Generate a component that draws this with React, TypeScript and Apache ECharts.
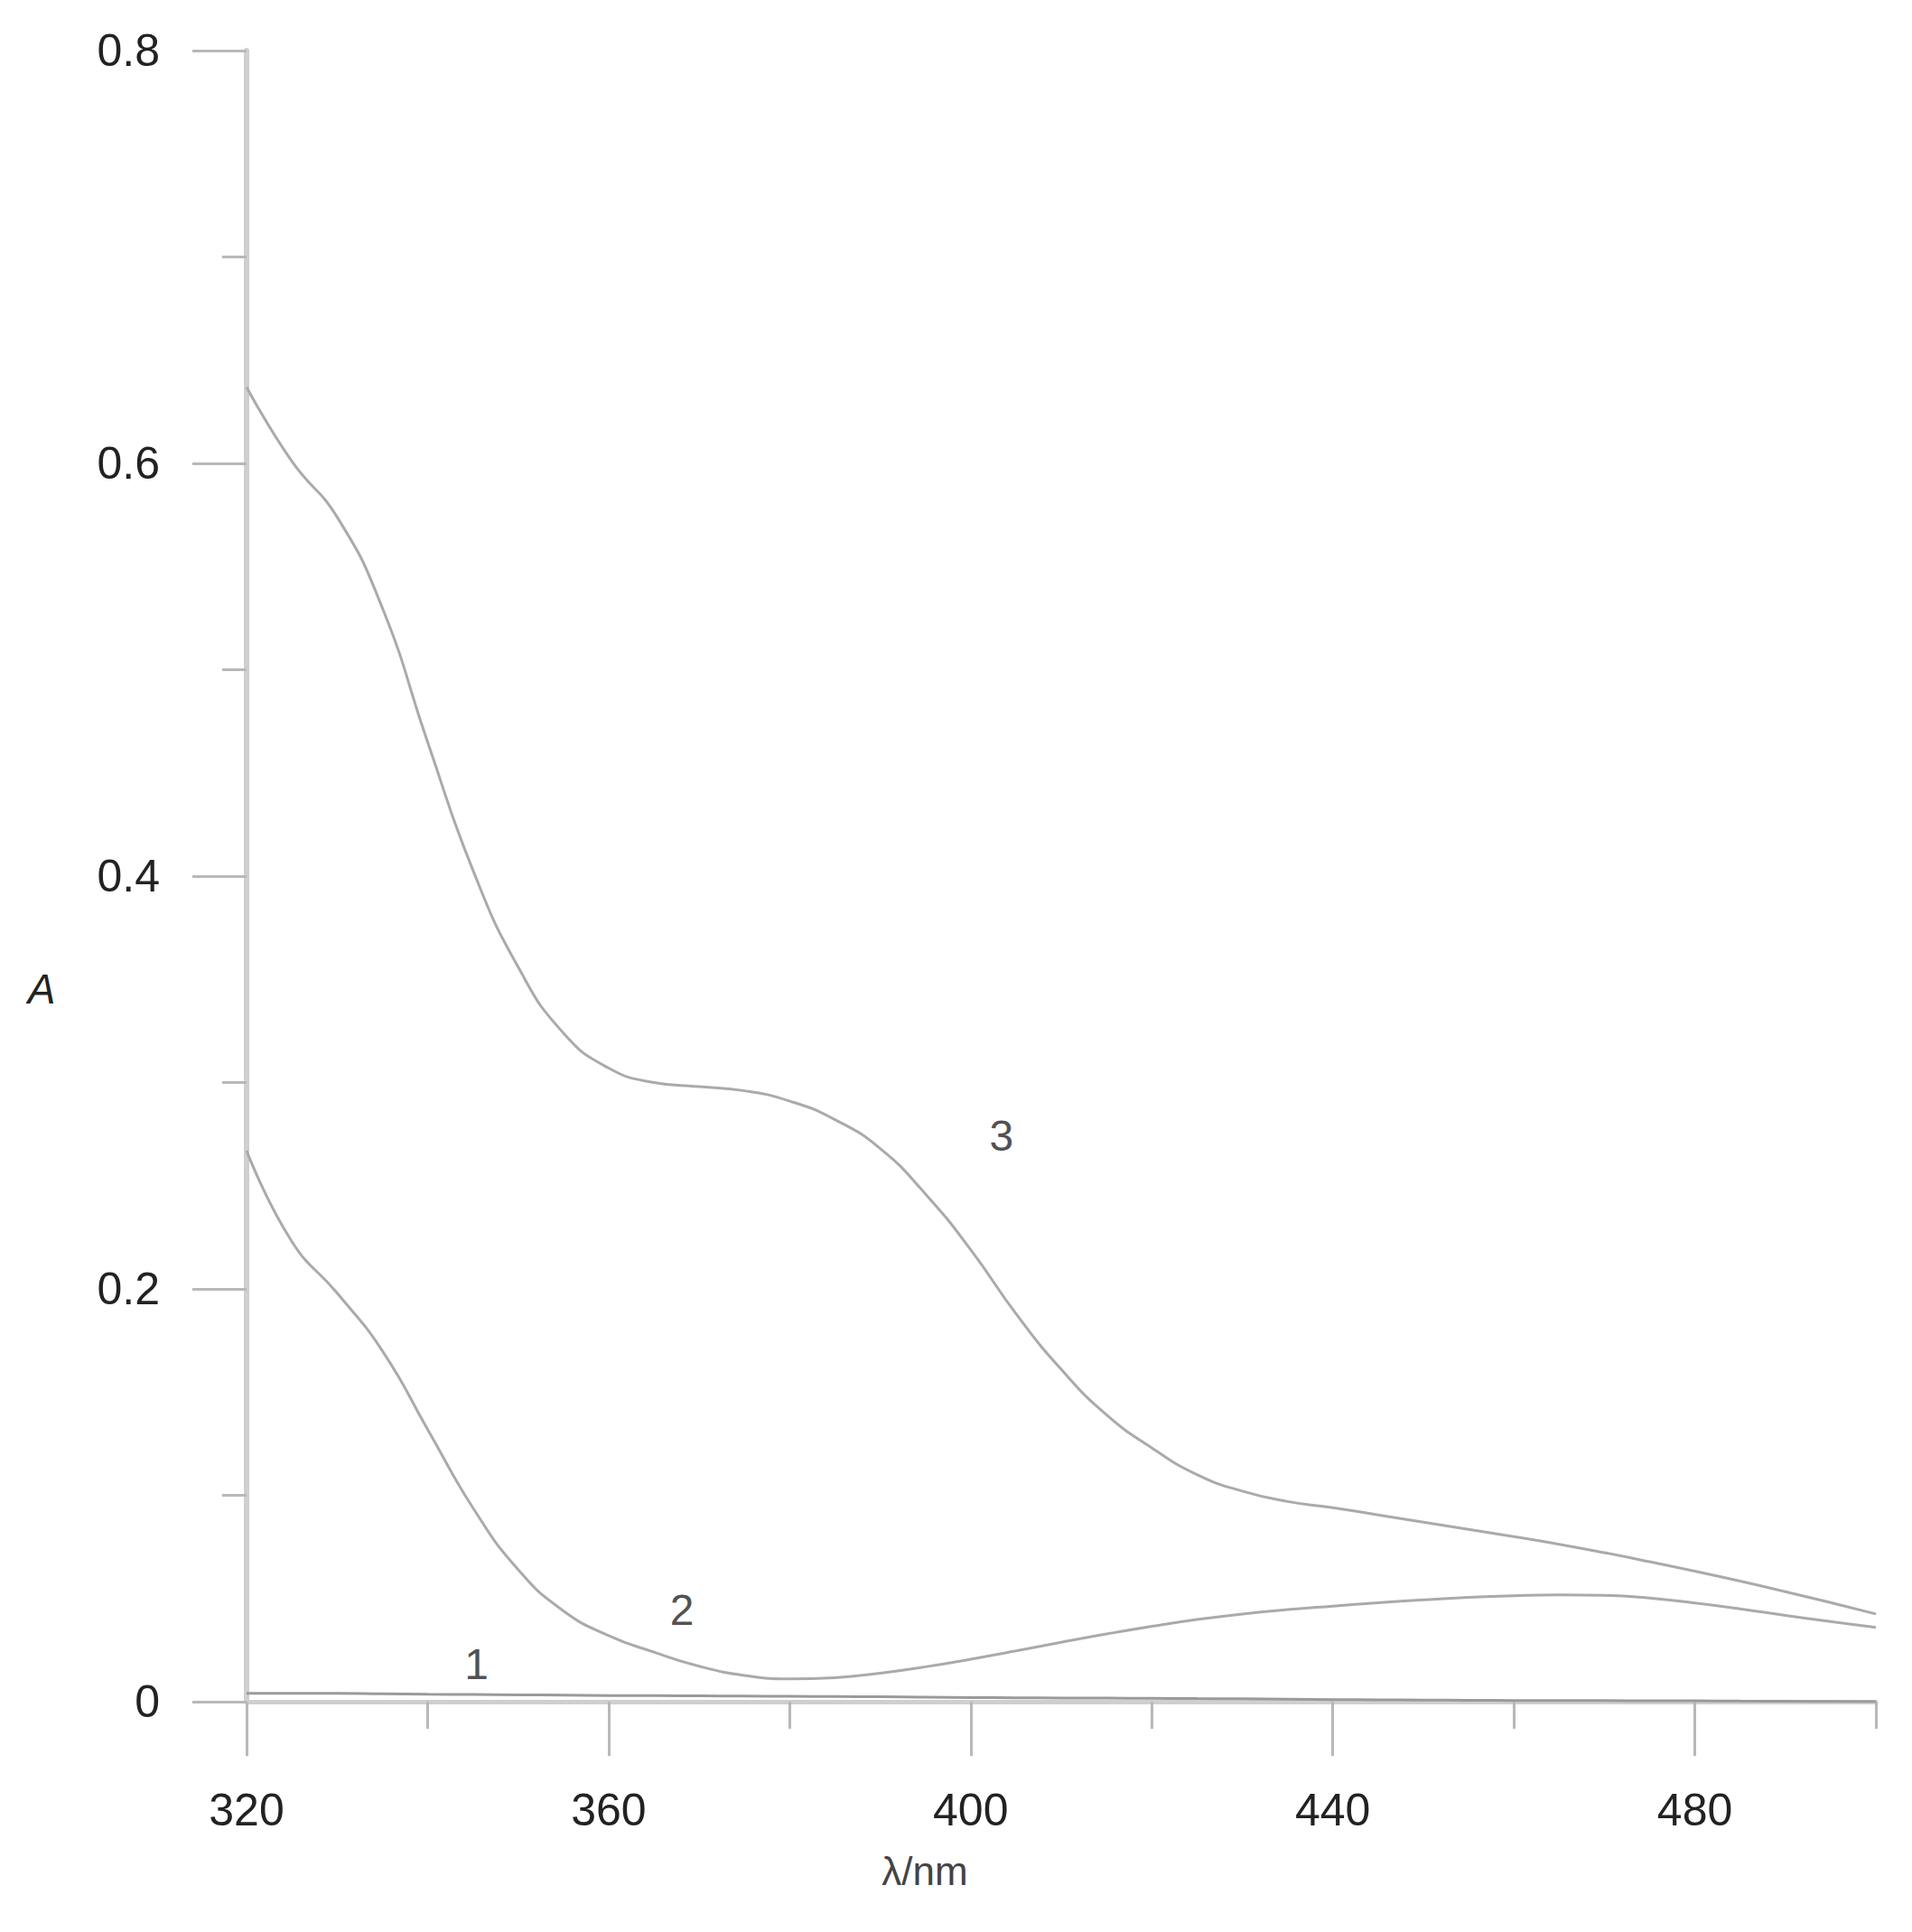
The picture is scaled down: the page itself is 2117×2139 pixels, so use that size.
import React, { useEffect, useRef } from "react";
import * as echarts from "echarts";

// wavelength grid (nm)
const wavelengths = [
  320, 325, 330, 335, 340, 345, 350, 355, 360, 365, 370, 375, 380, 385, 390, 395,
  400, 405, 410, 415, 420, 425, 430, 435, 440, 445, 450, 455, 460, 465, 470, 475,
  480, 485, 490, 495, 500,
];

// curve 1 (nearly zero)
const curve1 = [
  0.004, 0.004, 0.004, 0.0038, 0.0036, 0.0035, 0.0033, 0.0032, 0.003, 0.0029, 0.0028, 0.0027,
  0.0026, 0.0025, 0.0024, 0.0022, 0.002, 0.0019, 0.0018, 0.0017, 0.0016, 0.0015, 0.0014, 0.0012,
  0.001, 0.0009, 0.0008, 0.0007, 0.0006, 0.0005, 0.0005, 0.0004, 0.0004, 0.0003, 0.0002, 0.0001, 0,
];

// curve 2
const curve2 = [
  0.267, 0.223, 0.198, 0.17, 0.132, 0.094, 0.064, 0.044, 0.032, 0.024, 0.0172, 0.0127,
  0.011, 0.0116, 0.0138, 0.0169, 0.0206, 0.0246, 0.0288, 0.0328, 0.0365, 0.0398, 0.0425, 0.0446,
  0.0463, 0.0479, 0.0493, 0.0505, 0.0513, 0.0517, 0.0515, 0.0502, 0.0478, 0.045, 0.0418, 0.0388, 0.036,
];

// curve 3
const curve3 = [
  0.637, 0.601, 0.574, 0.53, 0.465, 0.403, 0.356, 0.324, 0.307, 0.3, 0.298, 0.296,
  0.291, 0.282, 0.268, 0.246, 0.219, 0.188, 0.161, 0.139, 0.123, 0.11, 0.102, 0.097,
  0.094, 0.0905, 0.087, 0.0835, 0.08, 0.0763, 0.0722, 0.0678, 0.0632, 0.0584, 0.0533, 0.048, 0.0425,
];

// curve labels: [x (nm), y (A), text]
const curveLabels: [number, number, string][] = [
  [345.4, 0.018, "1"],
  [368.1, 0.0446, "2"],
  [403.4, 0.274, "3"],
];

const xMajorTicks = [320, 360, 400, 440, 480];
const xMinorTicks = [340, 380, 420, 460, 500];

const FONT = "'Liberation Sans', Arial, Helvetica, sans-serif";

export default function App() {
  const ref = useRef<HTMLDivElement>(null);

  useEffect(() => {
    if (!ref.current) return;
    const chart = echarts.init(ref.current, undefined, { renderer: "svg" });
    const toPairs = (arr: number[]) => wavelengths.map((w, i) => [w, arr[i]]);
    const lineColor = "#aaaaaa";

    chart.setOption({
      animation: false,
      backgroundColor: "#ffffff",
      grid: { left: 273, right: 40, top: 56, bottom: 255 },
      xAxis: [
        {
          type: "value",
          min: 320,
          max: 500,
          interval: 40,
          axisLine: { show: true, onZero: false, lineStyle: { color: "#cfcfcf", width: 5 } },
          axisTick: {
            show: true,
            inside: false,
            length: 60,
            customValues: xMajorTicks,
            lineStyle: { color: "#b8b8b8", width: 3 },
          },
          axisLabel: {
            show: true,
            customValues: xMajorTicks,
            margin: 95,
            fontSize: 50,
            fontFamily: FONT,
            color: "#222",
          },
          splitLine: { show: false },
        },
        {
          type: "value",
          min: 320,
          max: 500,
          interval: 40,
          position: "bottom",
          axisLine: { show: false },
          axisTick: {
            show: true,
            inside: false,
            length: 30,
            customValues: xMinorTicks,
            lineStyle: { color: "#b8b8b8", width: 3 },
          },
          axisLabel: { show: false },
          splitLine: { show: false },
        },
      ],
      yAxis: {
        type: "value",
        min: 0,
        max: 0.8,
        interval: 0.2,
        axisLine: { show: true, lineStyle: { color: "#cfcfcf", width: 6 } },
        axisTick: { show: true, inside: false, length: 60, lineStyle: { color: "#b8b8b8", width: 3 } },
        minorTick: { show: true, splitNumber: 2, length: 27, lineStyle: { color: "#b8b8b8", width: 3 } },
        axisLabel: {
          margin: 96,
          fontSize: 50,
          fontFamily: FONT,
          color: "#222",
          formatter: (v: number) => (v === 0 ? "0" : v.toFixed(1)),
        },
        splitLine: { show: false },
        minorSplitLine: { show: false },
      },
      series: [
        {
          name: "1",
          type: "line",
          data: toPairs(curve1),
          smooth: true,
          showSymbol: false,
          lineStyle: { color: "#9a9a9a", width: 3 },
          z: 3,
        },
        {
          name: "2",
          type: "line",
          data: toPairs(curve2),
          smooth: true,
          showSymbol: false,
          lineStyle: { color: lineColor, width: 3 },
        },
        {
          name: "3",
          type: "line",
          data: toPairs(curve3),
          smooth: true,
          showSymbol: false,
          lineStyle: { color: lineColor, width: 3 },
        },
        {
          name: "labels",
          type: "scatter",
          data: curveLabels.map((l) => [l[0], l[1], l[2]]),
          symbolSize: 1,
          itemStyle: { color: "rgba(0,0,0,0)" },
          label: {
            show: true,
            position: "inside",
            formatter: (p: any) => p.value[2],
            fontSize: 48,
            fontFamily: FONT,
            color: "#222",
          },
          z: 5,
        },
      ],
      graphic: [
        {
          type: "text",
          x: 46,
          y: 1095,
          style: {
            text: "A",
            fontSize: 46,
            fontStyle: "italic",
            fontFamily: FONT,
            fill: "#222",
            align: "center",
            verticalAlign: "middle",
          },
        },
        {
          type: "text",
          x: 1024,
          y: 2071,
          style: {
            text: "λ/nm",
            fontSize: 44,
            fontFamily: FONT,
            fill: "#444",
            align: "center",
            verticalAlign: "middle",
          },
        },
      ],
    });

    return () => chart.dispose();
  }, []);

  return (
    <div
      ref={ref}
      style={{ position: "absolute", left: 0, top: 0, width: 2117, height: 2139 }}
    />
  );
}
